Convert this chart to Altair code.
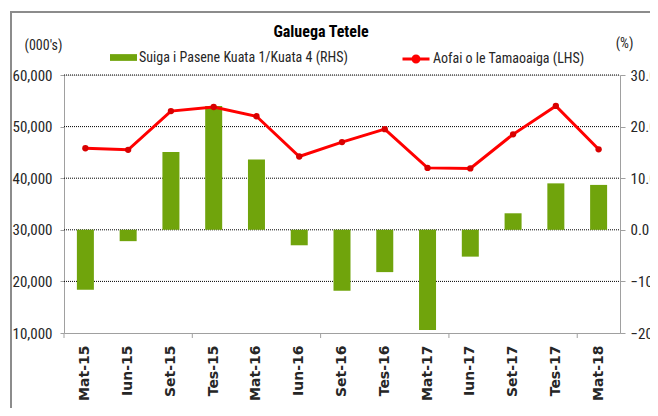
import altair as alt
import pandas as pd

categories = ["Mat-15", "Iun-15", "Set-15", "Tes-15", "Mat-16", "Iun-16", "Set-16",
              "Tes-16", "Mat-17", "Iun-17", "Set-17", "Tes-17", "Mat-18"]
employment = [45800, 45500, 53000, 53800, 52000, 44200, 47000,
              49500, 42000, 41900, 48500, 54000, 45600]
pct_change = [-11.6, -2.2, 15.1, 24.0, 13.6, -3.0, -11.8,
              -8.2, -19.4, -5.2, 3.2, 9.0, 8.7]
tick_cats = ["Mat-15", "Tes-15", "Set-16", "Iun-17", "Mat-18"]
left_ticks = [10000, 20000, 30000, 40000, 50000, 60000]
grid_values = [20000, 30000, 40000, 50000, 60000]
right_ticks = [-20, -10, 0, 10, 20, 30]

chart_title = "Galuega Tetele"
bar_label = "Suiga i Pasene Kuata 1/Kuata 4 (RHS)"
line_label = "Aofai o le Tamaoaiga (LHS)"

GREEN = "#70a40c"
RED = "#ff0000"
NARROW = "Liberation Sans Narrow, Arial Narrow, Roboto Condensed, Open Sans"
TXT = "#262626"

df = pd.DataFrame({
    "cat": categories,
    "emp": employment,
    "pct": pct_change,
    "bar_series": bar_label,
    "line_series": line_label,
})
ticks_df = pd.DataFrame({"cat": tick_cats})
grid_df = pd.DataFrame({"v": grid_values})
one = pd.DataFrame({"title": [chart_title]})

x_scale = alt.Scale(domain=categories, paddingInner=0, paddingOuter=0)
x_axis = alt.Axis(labelAngle=-90, labelFont="DejaVu Sans", labelFontWeight="bold",
                  labelFontSize=14, labelColor=TXT, labelPadding=12, ticks=False,
                  tickSize=0, domainColor="#a0a0a0", domainWidth=1, zindex=1,
                  title=None, labelOverlap=False)
left_scale = alt.Scale(domain=[10000, 60000], nice=False, zero=False)
left_axis = alt.Axis(orient="left", values=left_ticks,
                     labelExpr="format(datum.value, ',')", grid=False,
                     domainColor="#a0a0a0", tickColor="#a0a0a0", tickSize=4,
                     labelPadding=8, labelFont=NARROW, labelFontSize=15,
                     labelColor=TXT, title="(000's)", titleAngle=0, titleX=-21,
                     titleY=-30, titleAlign="center", titleBaseline="middle",
                     titleFont=NARROW, titleFontSize=14, titleFontWeight="normal",
                     titleColor=TXT)

grid = alt.Chart(grid_df).mark_rule(color="#000000", strokeWidth=1,
                                    strokeDash=[1, 1]).encode(
    y=alt.Y("v:Q", scale=left_scale, axis=None),
    x=alt.value(0),
    x2=alt.value(556),
)

bars = alt.Chart(df).mark_bar(size=17).encode(
    x=alt.X("cat:N", scale=x_scale, axis=x_axis),
    y=alt.Y("pct:Q", scale=alt.Scale(domain=[-20, 30], nice=False),
            axis=alt.Axis(orient="right", values=right_ticks,
                          labelExpr="format(datum.value, '.1f')", grid=False,
                          domainColor="#a0a0a0", tickColor="#a0a0a0", tickSize=5,
                          labelPadding=5, labelFont=NARROW, labelFontSize=15,
                          labelColor=TXT, title="(%)", titleAngle=0, titleX=4,
                          titleY=-32, titleAlign="center", titleBaseline="middle",
                          titleFont=NARROW, titleFontSize=14, titleFontWeight="normal",
                          titleColor=TXT)),
    fill=alt.Fill("bar_series:N", scale=alt.Scale(domain=[bar_label], range=[GREEN]),
                  legend=alt.Legend(title=None, orient="none", legendX=46, legendY=-31,
                                    direction="horizontal",
                                    symbolType="M-1,-0.25H1V0.25H-1Z", symbolSize=729,
                                    symbolStrokeWidth=0, labelFont=NARROW,
                                    labelFontSize=14, labelColor=TXT, labelOffset=2,
                                    labelLimit=0, padding=0)),
)

line = alt.Chart(df).mark_line(strokeWidth=3).encode(
    x=alt.X("cat:N", scale=x_scale, axis=x_axis),
    y=alt.Y("emp:Q", scale=left_scale, axis=left_axis),
    stroke=alt.Stroke("line_series:N", scale=alt.Scale(domain=[line_label], range=[RED]),
                      legend=alt.Legend(title=None, orient="none", legendX=337, legendY=-31,
                                        direction="horizontal",
                                        symbolType="M-1,0H1M0.22,0A0.22,0.22,0,1,1,-0.22,0A0.22,0.22,0,1,1,0.22,0Z",
                                        symbolSize=729, symbolStrokeWidth=3,
                                        symbolFillColor=RED, labelFont=NARROW,
                                        labelFontSize=14, labelColor=TXT, labelOffset=2,
                                        labelLimit=0, padding=0)),
)

points = alt.Chart(df).mark_circle(size=40, color="#d80000", opacity=1).encode(
    x=alt.X("cat:N", scale=x_scale, axis=x_axis),
    y=alt.Y("emp:Q", scale=left_scale, axis=left_axis),
)

left_layer = alt.layer(line, points)

xticks = alt.Chart(ticks_df).mark_rule(color="#a0a0a0", strokeWidth=1).encode(
    x=alt.X("cat:N", scale=x_scale, axis=x_axis, bandPosition=0),
    y=alt.value(258),
    y2=alt.value(263),
)

title_mark = alt.Chart(one).mark_text(font=NARROW, fontSize=16, fontWeight="bold",
                                      color="#000000", align="center",
                                      baseline="middle").encode(
    text="title:N", x=alt.value(257), y=alt.value(-43))

frame_top = alt.Chart(one).mark_rule(color="#8c8c8c", strokeWidth=2).encode(
    x=alt.value(-53), x2=alt.value(640), y=alt.value(-63))
frame_left = alt.Chart(one).mark_rule(color="#8c8c8c", strokeWidth=2).encode(
    x=alt.value(-53), y=alt.value(-64), y2=alt.value(420))

chart = alt.layer(grid, bars, left_layer, xticks, title_mark, frame_top,
                  frame_left).resolve_scale(
    y="independent"
).properties(
    width=556,
    height=258,
    autosize=alt.AutoSizeParams(type="none"),
    padding={"left": 56, "top": 67, "right": 30, "bottom": 75},
).configure_view(strokeWidth=0).configure(background="white")

chart.save("out.html", embed_options={"renderer": "svg", "actions": False})
